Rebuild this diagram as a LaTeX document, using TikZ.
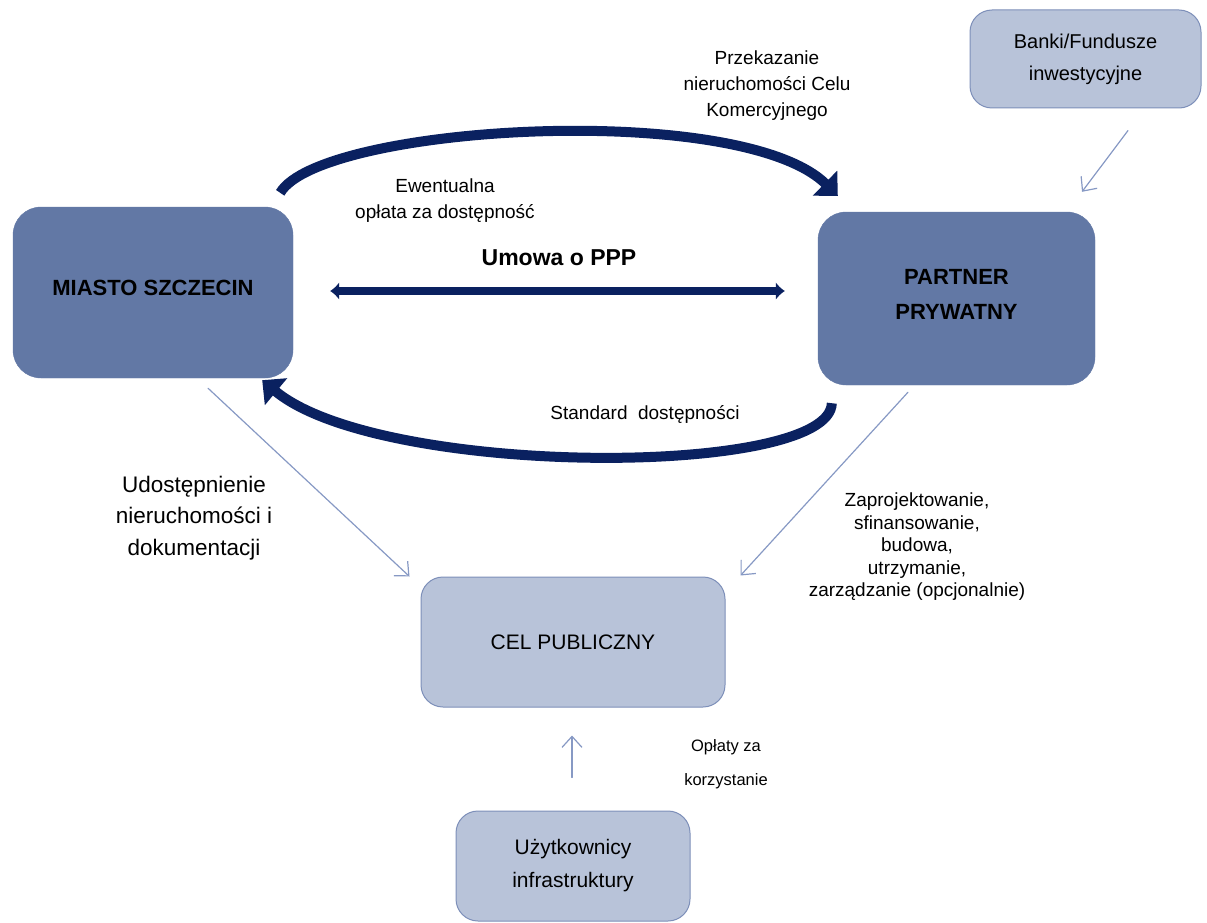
\documentclass[tikz,border=0pt]{standalone}
\usepackage{fontspec}
\setmainfont{Liberation Sans}
\usetikzlibrary{arrows.meta}
\definecolor{boxdark}{RGB}{98,120,165}
\definecolor{boxlight}{RGB}{184,195,217}
\definecolor{boxline}{RGB}{125,143,185}
\definecolor{navy}{RGB}{10,33,96}
\definecolor{thinblue}{RGB}{135,153,196}
\begin{document}
\begin{tikzpicture}[x=1pt,y=-1pt,line join=round,line cap=round,
	darkbox/.style={rounded corners=28pt,fill=boxdark,draw=boxdark,align=center,text depth=9pt,
		font=\fontsize{22}{35}\selectfont\bfseries},
	lightbox/.style={rounded corners=22pt,fill=boxlight,draw=boxline,line width=1pt,align=center,
		font=\fontsize{21}{33}\selectfont},
	lbl/.style={align=center,font=\fontsize{19}{26}\selectfont},
	thinarrow/.style={draw=thinblue,line width=1.2pt,-{Straight Barb[length=11pt,width=20pt]}},
	curvedarrow/.style={draw=navy,line width=10pt,line cap=butt,-{Triangle[length=18pt,width=34pt]}},
	umowa/.style={draw=navy,line width=8pt,line cap=butt,{Latex[length=9pt,width=18pt]}-{Latex[length=9pt,width=18pt]}}]
	\useasboundingbox (0,0) rectangle (1207,923);
	
	\node[darkbox,minimum width=280pt,minimum height=171pt] (miasto) at (153,292.5) {MIASTO SZCZECIN};
	\node[darkbox,minimum width=277pt,minimum height=173pt] (partner) at (956.5,298.5) {PARTNER\\PRYWATNY};
	\node[lightbox,minimum width=231pt,minimum height=98pt,font=\fontsize{20}{32}\selectfont] (banki) at (1085.5,59) {Banki/Fundusze\\inwestycyjne};
	\node[lightbox,minimum width=304pt,minimum height=130pt] (cel) at (573,642) {CEL PUBLICZNY};
	\node[lightbox,minimum width=234pt,minimum height=110pt] (uzytkownicy) at (573,866) {Użytkownicy\\infrastruktury};
	
	\draw[curvedarrow] ([shift={(-13pt,14pt)}]miasto.north east)
		.. controls (320,125) and (740,100) .. ([shift={(20pt,16pt)}]partner.north west);
	\draw[curvedarrow] ([shift={(14pt,-18pt)}]partner.south west)
		.. controls (830,478) and (380,478) .. ([shift={(-31pt,-2pt)}]miasto.south east);
	\draw[umowa] ([shift={(37pt,1.5pt)}]miasto.east) -- ([shift={(-33pt,1.5pt)}]miasto.east -| partner.west);
	
	\draw[thinarrow] ([shift={(55pt,-10pt)}]miasto.south) -- ([xshift=-11pt]cel.north west);
	\draw[thinarrow] ([shift={(-48.5pt,-7pt)}]partner.south) -- ([shift={(15pt,1pt)}]cel.north east);
	\draw[thinarrow] ([shift={(42.5pt,-22pt)}]banki.south) -- ([shift={(125.5pt,20pt)}]partner.north);
	\draw[thinarrow] ([shift={(-1pt,33pt)}]uzytkownicy.north) -- ([shift={(-1pt,-28pt)}]cel.south);
	
	\node[lbl] (przekazanie) at (767,86) {Przekazanie\\nieruchomości Celu\\Komercyjnego};
	\node[lbl] (ewentualna) at (445,201) {Ewentualna\\opłata za dostępność};
	\node[font=\fontsize{23}{26}\selectfont\bfseries] (umowalbl) at (559,258) {Umowa o PPP};
	\node[lbl] (standard) at (645,414) {Standard\ \ dostępności};
	\node[lbl,font=\fontsize{22.5}{31.5}\selectfont] (udostepnienie) at (194,518) {Udostępnienie\\nieruchomości i\\dokumentacji};
	\node[lbl,font=\fontsize{19}{22.5}\selectfont] (zaprojektowanie) at (917,547) {Zaprojektowanie,\\sfinansowanie,\\budowa,\\utrzymanie,\\zarządzanie (opcjonalnie)};
	\node[lbl,font=\fontsize{16.5}{34}\selectfont] (oplaty) at (726,764) {Opłaty za\\korzystanie};
\end{tikzpicture}
\end{document}
